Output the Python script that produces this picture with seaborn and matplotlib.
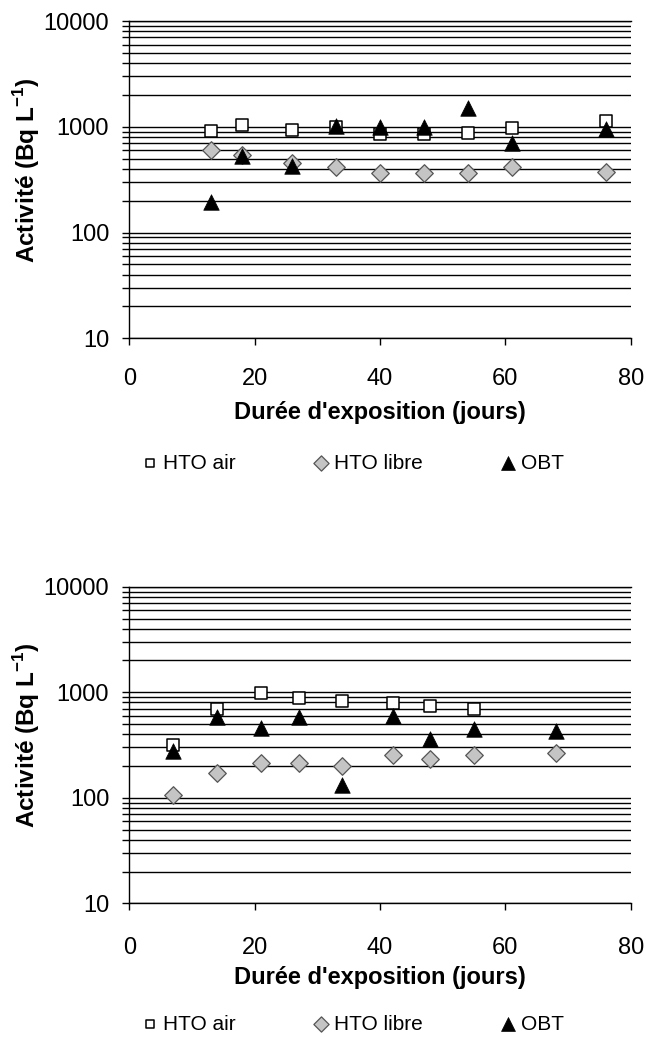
import numpy as np
import pandas as pd
import seaborn as sns
import matplotlib.pyplot as plt
from matplotlib.ticker import LogLocator, FixedLocator, NullFormatter

# top panel
x_top = [13, 18, 26, 33, 40, 47, 54, 61, 76]
air_top = [910, 1037, 937, 990, 853, 855, 877, 972, 1132]
libre_top = [601, 540, 450, 418, 367, 368, 368, 415, 375]
obt_top = [196, 524, 430, 1020, 1000, 1000, 1520, 700, 957]

# bottom panel
x_bot = [7, 14, 21, 27, 34, 42, 48, 55, 68]
x_bot_air = [7, 14, 21, 27, 34, 42, 48, 55]
air_bot = [317, 696, 987, 885, 822, 786, 743, 690]
libre_bot = [107, 170, 216, 216, 198, 255, 235, 253, 266]
obt_bot = [276, 588, 463, 588, 132, 590, 361, 453, 427]

labels = ["HTO air", "HTO libre", "OBT"]
x_ticks = [0, 20, 40, 60, 80]
y_ticks = [10, 100, 1000, 10000]

sns.set_style("white")
plt.rcParams['font.family'] = ['Liberation Sans', 'DejaVu Sans']
plt.rcParams['mathtext.fontset'] = 'custom'
plt.rcParams['mathtext.rm'] = 'Liberation Sans'
plt.rcParams['mathtext.bf'] = 'Liberation Sans:bold'
plt.rcParams['text.color'] = 'black'
plt.rcParams['axes.labelcolor'] = 'black'
plt.rcParams['xtick.color'] = 'black'
plt.rcParams['ytick.color'] = 'black'

fig = plt.figure(figsize=(6.46, 10.37), dpi=100)
ax1 = fig.add_axes([0.2002, 0.6738, 0.7762, 0.3059])
ax2 = fig.add_axes([0.2002, 0.1289, 0.7762, 0.3053])


def draw_panel(ax, xa, air, xl, libre, xo, obt, tick_pad, leg_y):
    sns.scatterplot(x=xa, y=air, ax=ax, marker='s', s=72, color='white',
                    edgecolor='black', linewidth=1.1, label=labels[0], zorder=3)
    sns.scatterplot(x=xl, y=libre, ax=ax, marker='D', s=80, color='#c4c4c4',
                    edgecolor='#555555', linewidth=0.9, label=labels[1], zorder=4)
    sns.scatterplot(x=xo, y=obt, ax=ax, marker='^', s=125, color='black',
                    edgecolor='black', linewidth=0.5, label=labels[2], zorder=5)

    ax.set_yscale('log')
    ax.set_ylim(10, 10000)
    ax.set_xlim(0, 80)
    ax.xaxis.set_major_locator(FixedLocator(x_ticks))
    ax.yaxis.set_major_locator(FixedLocator(y_ticks))
    ax.set_yticklabels([str(v) for v in y_ticks])
    ax.yaxis.set_minor_locator(LogLocator(base=10, subs=np.arange(2, 10)))
    ax.yaxis.set_minor_formatter(NullFormatter())

    # horizontal grid on every decade step
    ax.grid(True, which='both', axis='y', color='black', linewidth=1.0)
    ax.grid(False, axis='x')
    ax.set_axisbelow(True)

    for side in ['left', 'bottom', 'top']:
        ax.spines[side].set_visible(True)
        ax.spines[side].set_color('black')
        ax.spines[side].set_linewidth(1.0)
    ax.spines['right'].set_visible(False)

    ax.tick_params(axis='y', which='both', left=True, direction='out', length=5,
                   width=1, labelsize=17, pad=9.5)
    ax.tick_params(axis='x', which='major', bottom=True, direction='out', length=5,
                   width=1, labelsize=17, pad=tick_pad)

    ax.set_xlabel("Durée d'exposition (jours)", fontsize=17, fontweight='bold')
    ax.set_ylabel(r"Activité (Bq L$^{\mathbf{-1}}$)", fontsize=17.5, fontweight='bold')
    ax.xaxis.set_label_coords(0.5, -0.198)
    ax.yaxis.set_label_coords(-0.175, 0.53)

    leg = ax.legend(ncol=3, loc='center left', bbox_to_anchor=(0.2225, leg_y),
                    bbox_transform=fig.transFigure, frameon=False, fontsize=15,
                    handlelength=0.6, handletextpad=0.32, columnspacing=3.79,
                    borderpad=0, borderaxespad=0)
    for h, sz in zip(leg.legend_handles, [36, 60, 100]):
        h.set_sizes([sz])


draw_panel(ax1, x_top, air_top, x_top, libre_top, x_top, obt_top, 16.5, 0.5535)
draw_panel(ax2, x_bot_air, air_bot, x_bot, libre_bot, x_bot, obt_bot, 19.5, 0.0125)

fig.savefig('out.png', dpi=100)
